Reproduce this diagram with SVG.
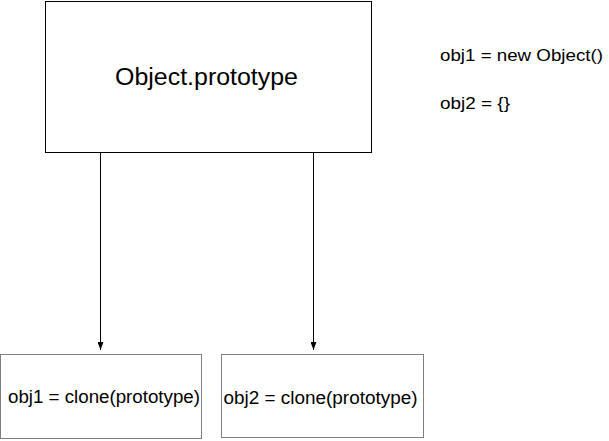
<svg xmlns="http://www.w3.org/2000/svg" width="609" height="441" viewBox="0 0 609 441">
<style>
.t{font-family:"Liberation Sans",Arial,sans-serif;fill:#000}
.box{fill:#fff}
.edge{stroke:#000;stroke-width:1;fill:none}
</style>
<defs>
<marker id="arr" viewBox="0 0 10 10" refX="10" refY="5" markerWidth="8" markerHeight="6" markerUnits="userSpaceOnUse" orient="auto" preserveAspectRatio="none">
<path d="M0,0 L10,5 L0,10 Z" fill="#000"/>
</marker>
</defs>
<rect width="609" height="441" fill="#fff"/>
<g id="node-object-prototype">
<rect class="box" x="45.5" y="1.5" width="326" height="151" stroke="#000" stroke-width="1"/>
<text class="t" x="206.5" y="85" font-size="23" text-anchor="middle" textLength="183" lengthAdjust="spacingAndGlyphs">Object.prototype</text>
</g>
<g id="node-obj1">
<rect class="box" x="0.5" y="354.5" width="201" height="84" stroke="#808080" stroke-width="1"/>
<text class="t" x="8" y="403" font-size="18" textLength="192" lengthAdjust="spacingAndGlyphs">obj1 = clone(prototype)</text>
</g>
<g id="node-obj2">
<rect class="box" x="221.5" y="354.5" width="202" height="83" stroke="#808080" stroke-width="1"/>
<text class="t" x="223.5" y="404" font-size="18" textLength="194" lengthAdjust="spacingAndGlyphs">obj2 = clone(prototype)</text>
</g>
<g id="note">
<text class="t" x="440" y="61" font-size="17" textLength="163" lengthAdjust="spacingAndGlyphs">obj1 = new Object()</text>
<text class="t" x="440" y="108.5" font-size="17" textLength="70" lengthAdjust="spacingAndGlyphs">obj2 = {}</text>
</g>
<g id="connectors">
<line class="edge" x1="100.5" y1="152" x2="100.5" y2="350" marker-end="url(#arr)"/>
<line class="edge" x1="313.5" y1="152" x2="313.5" y2="350" marker-end="url(#arr)"/>
</g>
</svg>
